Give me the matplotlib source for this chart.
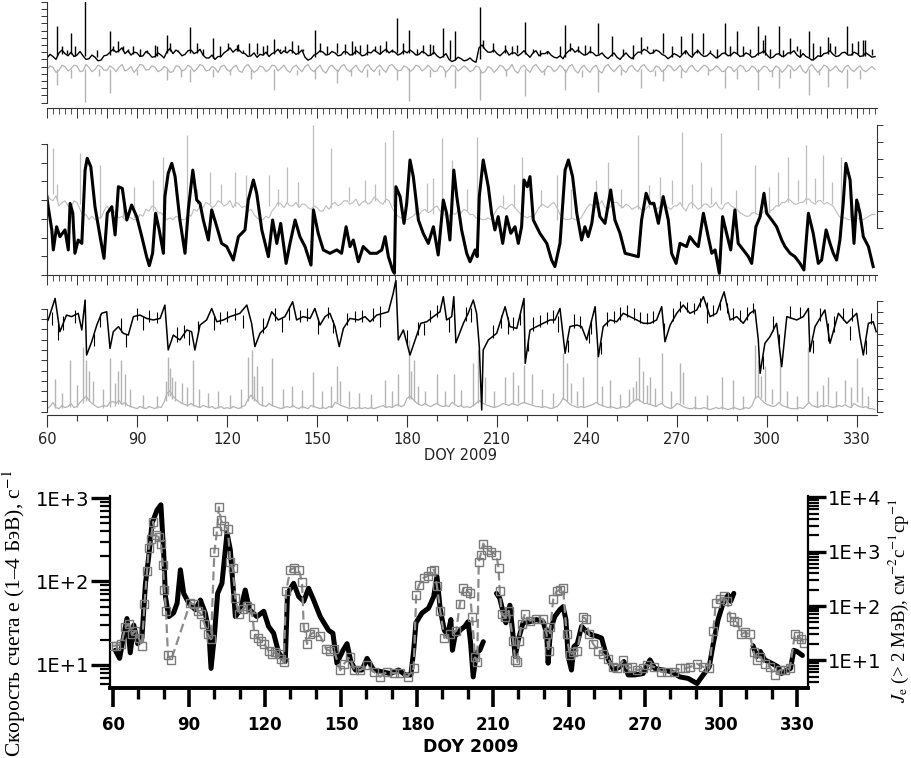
import numpy as np
import matplotlib.pyplot as plt
from matplotlib.ticker import FixedLocator, MultipleLocator, FixedFormatter, LogLocator, NullFormatter

plt.rcParams['mathtext.fontset'] = 'stix'

W, H = 911, 758

# ---------------- top block ----------------
DOY_DAILY = np.arange(60, 337, 1)   # 60..336

# panel 1 (arbitrary units 0..14), daily values
p1_black = [
    6.2, 6.7, 6.4, 6.0, 6.9, 7.3, 6.8, 6.5, 7.0, 6.4, 6.6, 7.1, 6.5, 6.0, 6.1, 6.6, 6.3, 5.8, 5.9, 6.5,
    6.6, 7.0, 7.4, 7.0, 7.2, 7.6, 6.8, 7.2, 6.6, 7.0, 6.9, 6.4, 6.5, 7.1, 6.8, 6.3, 6.4, 6.9, 6.6, 6.2,
    7.1, 7.5, 6.8, 7.3, 7.0, 6.5, 6.7, 7.2, 7.3, 6.8, 7.0, 7.4, 6.6, 6.2, 6.2, 6.6, 6.0, 6.4, 6.4, 6.9,
    7.2, 7.6, 7.0, 7.4, 7.3, 6.9, 6.8, 6.4, 6.5, 6.9, 6.3, 6.7, 6.6, 7.0, 6.4, 6.8, 7.0, 7.4, 6.8, 7.2,
    6.9, 7.3, 7.1, 6.7, 6.9, 7.3, 6.3, 5.9, 6.1, 6.6, 6.8, 7.2, 7.0, 6.6, 6.7, 7.1, 6.9, 6.5, 6.6, 7.1,
    7.0, 6.6, 6.7, 7.2, 6.9, 6.5, 6.6, 7.0, 6.9, 7.3, 7.0, 6.7, 7.1, 7.4, 6.9, 7.2, 7.0, 6.6, 6.8, 7.2,
    6.9, 7.3, 7.0, 6.6, 6.7, 7.1, 6.9, 6.5, 6.6, 7.0, 6.5, 6.2, 6.4, 6.8, 6.0, 5.7, 5.9, 6.3, 6.1, 5.8,
    5.9, 6.2, 5.8, 5.6, 7.6, 8.0, 7.4, 7.0, 7.0, 7.3, 6.8, 6.5, 6.9, 7.3, 6.6, 6.9, 6.9, 6.5, 6.8, 7.2,
    6.7, 6.3, 6.9, 7.2, 6.5, 6.8, 6.8, 7.1, 6.6, 6.3, 6.2, 6.5, 6.1, 6.8, 7.2, 7.5, 7.0, 7.3, 6.9, 6.6,
    6.7, 7.1, 6.9, 6.5, 6.6, 6.9, 6.4, 6.1, 6.5, 6.9, 6.3, 6.0, 6.5, 6.9, 6.4, 6.1, 6.6, 7.0, 7.0, 7.4,
    7.2, 6.8, 6.9, 7.3, 7.1, 6.7, 6.5, 6.1, 6.4, 6.8, 6.6, 6.3, 6.8, 7.2, 6.6, 6.3, 6.9, 7.2, 6.7, 6.4,
    6.5, 6.9, 6.6, 6.2, 6.4, 6.8, 6.9, 6.5, 6.6, 7.0, 6.8, 6.4, 6.5, 6.9, 6.7, 6.3, 6.4, 6.8, 6.9, 7.2,
    6.6, 6.2, 6.3, 6.7, 6.8, 6.4, 6.5, 6.9, 6.9, 7.2, 6.6, 6.3, 6.8, 6.4, 6.2, 5.9, 6.1, 6.5, 6.4, 6.8,
    6.9, 7.2, 6.7, 6.4, 6.5, 6.9, 7.0, 6.6, 6.6, 7.0, 6.8, 6.4, 6.5, 6.9, 6.6, 6.3, 6.4]
p1_black_spikes = [
    (63.4, 6.5, 10.6), (68.0, 6.8, 9.7), (72.7, 6.5, 14.2), (81.0, 6.6, 9.9),
    (83.8, 7.0, 8.5), (99.9, 6.9, 9.4), (107.7, 6.9, 10.5), (115.4, 6.2, 8.9),
    (123.8, 7.1, 8.2), (127.4, 6.6, 8.3), (135.7, 6.7, 8.8), (141.8, 6.9, 8.6),
    (149.3, 6.4, 10.1), (159.3, 6.8, 8.2), (166.6, 6.6, 8.2), (172.9, 7.0, 8.6),
    (176.8, 6.9, 11.7), (180.8, 6.9, 10.1), (187.7, 6.6, 8.2), (192.1, 6.4, 10.3),
    (196.0, 5.9, 9.9), (204.3, 6.0, 13.3), (219.3, 6.8, 11.2), (232.7, 6.4, 10.8),
    (243.8, 6.7, 11.1), (248.4, 6.5, 9.2), (258.0, 6.8, 9.1), (265.4, 6.9, 9.6),
    (271.3, 6.7, 9.2), (274.9, 6.6, 9.6), (278.8, 6.7, 9.6), (286.0, 6.8, 11.0),
    (290.0, 6.7, 9.9), (297.0, 6.6, 10.6), (299.3, 6.6, 9.4), (304.1, 6.6, 10.6),
    (307.7, 6.7, 8.9), (314.0, 6.3, 9.9), (320.2, 6.8, 9.1), (326.6, 6.8, 10.6),
    (330.4, 6.7, 8.5), (332.7, 6.5, 8.7),
    (64.9, 6.8, 7.8), (66.6, 6.7, 7.3), (69.3, 6.5, 7.8), (76.6, 6.3, 7.3), (82.1, 7.2, 7.8),
    (85.4, 7.2, 7.8), (87.1, 7.0, 7.5), (88.8, 6.7, 7.8), (91.0, 6.5, 7.5), (93.2, 6.9, 7.3),
    (96.0, 6.4, 8.0), (96.6, 6.5, 7.8), (101.0, 7.2, 8.3), (103.8, 7.1, 7.3), (109.9, 6.9, 8.3),
    (112.1, 6.6, 7.5), (117.7, 6.3, 7.8), (120.4, 7.3, 8.3), (123.2, 7.2, 8.0), (125.4, 6.9, 7.3),
    (129.9, 6.8, 8.3), (132.1, 6.6, 7.8), (133.2, 6.8, 8.0), (137.7, 7.2, 7.5), (139.3, 7.0, 7.8),
    (143.8, 6.8, 8.0), (145.4, 7.1, 7.5), (151.0, 7.0, 8.3), (153.2, 6.7, 7.8), (156.6, 6.9, 8.3),
    (161.6, 6.6, 8.5), (162.7, 6.8, 7.8), (164.3, 6.9, 8.0), (169.3, 7.1, 7.8), (171.0, 6.9, 8.0),
    (174.9, 7.0, 7.5), (178.8, 6.8, 8.3), (183.2, 6.6, 7.5), (185.4, 6.9, 8.0), (188.8, 6.8, 8.0),
    (194.3, 6.0, 8.7), (205.4, 7.6, 8.7), (208.8, 7.0, 8.3), (212.7, 6.9, 8.0), (214.9, 6.8, 7.8),
    (216.6, 6.9, 8.0), (222.1, 6.9, 7.5), (224.3, 6.5, 7.3), (226.6, 6.8, 7.1), (231.0, 6.5, 7.8),
    (234.3, 7.2, 8.3), (237.1, 7.0, 7.8), (239.3, 6.6, 8.0), (241.0, 6.9, 7.8), (252.1, 6.5, 7.5),
    (255.4, 6.1, 8.0), (259.9, 7.4, 7.8), (262.1, 6.9, 7.5), (268.2, 6.4, 7.8), (272.7, 6.8, 7.3),
    (276.6, 6.9, 7.5), (281.0, 6.9, 7.3), (283.2, 6.2, 7.5), (287.7, 6.5, 7.8), (292.1, 6.5, 7.8),
    (294.3, 6.7, 7.5), (298.8, 6.9, 8.7), (301.0, 6.2, 7.5), (305.4, 6.4, 7.3), (309.9, 7.2, 7.8),
    (311.0, 6.3, 7.5), (315.4, 5.9, 8.3), (317.7, 6.5, 7.8), (321.0, 7.2, 8.3), (322.7, 6.7, 7.8),
    (328.2, 6.6, 8.3), (332.1, 6.5, 8.7), (334.9, 6.6, 7.5)]
p1_gray = [
    4.6, 5.1, 4.9, 4.2, 4.5, 5.2, 5.0, 4.4, 4.7, 5.2, 5.1, 4.3, 4.4, 5.3, 4.9, 4.3, 4.6, 5.2, 5.0, 4.5,
    4.5, 5.1, 4.8, 4.3, 4.9, 5.3, 4.4, 4.6, 5.0, 4.2, 4.7, 5.3, 5.2, 4.5, 4.6, 5.1, 4.9, 4.3, 4.5, 5.0,
    4.8, 4.2, 4.3, 5.1, 5.0, 4.4, 4.6, 5.2, 4.9, 4.3, 4.7, 5.3, 5.1, 4.4, 4.5, 5.0, 4.8, 4.2, 5.0, 5.2,
    4.6, 4.3, 4.9, 5.2, 4.4, 4.2, 5.0, 5.3, 4.7, 4.2, 4.5, 5.1, 4.9, 4.3, 4.6, 5.2, 5.1, 4.4, 4.8, 5.2,
    4.5, 4.2, 4.9, 5.2, 4.7, 4.3, 5.0, 5.3, 4.6, 4.3, 4.8, 5.2, 4.4, 4.1, 4.9, 5.2, 4.7, 4.3, 5.0, 5.3,
    4.6, 4.3, 4.8, 5.2, 4.5, 4.2, 5.0, 5.3, 4.7, 4.3, 4.9, 5.2, 4.6, 4.2, 5.1, 5.3, 4.8, 4.4, 4.5, 5.1,
    4.9, 4.3, 4.6, 5.2, 5.0, 4.4, 4.7, 5.2, 4.8, 4.3, 4.4, 5.1, 4.9, 4.2, 4.6, 5.2, 5.0, 4.4, 4.7, 5.1,
    4.8, 4.3, 4.5, 5.1, 4.9, 4.1, 4.3, 5.0, 4.8, 4.2, 4.6, 5.2, 5.0, 4.4, 4.7, 5.3, 4.4, 4.1, 4.9, 5.2,
    4.6, 4.2, 5.0, 5.3, 4.7, 4.2, 4.5, 5.1, 4.9, 4.3, 4.6, 5.2, 4.8, 4.2, 5.0, 5.3, 4.5, 4.1, 4.8, 5.2,
    4.6, 4.2, 4.9, 5.2, 4.4, 4.1, 5.0, 5.3, 4.7, 4.3, 4.8, 5.2, 4.5, 4.2, 4.9, 5.2, 4.6, 4.3, 5.0, 5.3,
    4.7, 4.3, 4.4, 5.1, 4.9, 4.3, 4.6, 5.2, 5.0, 4.4, 4.7, 5.2, 4.5, 4.2, 4.9, 5.2, 4.6, 4.3, 4.8, 5.2,
    5.0, 4.4, 4.6, 5.1, 4.8, 4.3, 4.4, 5.0, 4.9, 4.3, 4.7, 5.2, 5.0, 4.3, 4.5, 5.1, 4.8, 4.2, 4.6, 5.1,
    4.9, 4.3, 4.5, 5.1, 4.8, 4.2, 4.6, 5.2, 5.0, 4.4, 4.7, 5.2, 4.4, 4.1, 4.9, 5.3, 4.7, 4.2, 4.6, 5.2,
    5.0, 4.4, 4.7, 5.1, 4.5, 4.2, 4.9, 5.2, 4.6, 4.3, 4.8, 5.1, 4.5, 4.3, 4.7, 5.0, 4.6]
p1_gray_dips = [
    (63.4, 4.6, 2.5), (68.0, 4.7, 3.4), (72.7, 4.7, 0.1), (81.0, 4.6, 1.3),
    (99.9, 4.7, 3.2), (107.7, 4.7, 2.9), (115.4, 4.7, 3.5), (128.0, 4.6, 3.3),
    (135.7, 4.7, 1.8), (149.3, 4.6, 3.3), (156.6, 4.7, 2.7), (166.6, 4.7, 3.6),
    (176.8, 4.6, 3.2), (180.8, 4.8, 0.2), (187.7, 4.7, 3.5), (196.0, 4.6, 2.1),
    (204.3, 4.6, 0.4), (219.3, 4.7, 0.9), (232.7, 4.7, 1.8), (243.8, 4.6, 1.5),
    (258.0, 4.7, 2.0), (265.4, 4.7, 3.0), (271.3, 4.7, 3.4), (286.0, 4.7, 2.0),
    (290.0, 4.7, 3.3), (297.0, 4.6, 1.8), (304.1, 4.7, 2.0), (307.7, 4.7, 3.4),
    (314.0, 4.7, 1.1), (320.2, 4.6, 2.2), (326.6, 4.6, 2.0),
    (77.3, 4.6, 3.7), (90.1, 4.7, 3.8), (104.6, 4.5, 3.6), (121.1, 4.6, 3.9), (143.2, 4.5, 3.8),
    (161.2, 4.6, 3.7), (170.5, 4.6, 3.9), (192.8, 4.5, 3.6), (213.0, 4.6, 3.7), (225.6, 4.6, 3.9),
    (238.2, 4.5, 3.5), (251.4, 4.6, 3.8), (262.8, 4.5, 3.7), (280.2, 4.6, 3.9), (301.5, 4.5, 3.6),
    (317.4, 4.6, 3.8), (330.9, 4.5, 3.3)]

# panel 2 (left units 0..7 for black, right units 0..6 for gray)
p2_black = [
    (59.7, 4.46), (60.4, 3.65), (61.6, 2.41), (62.1, 1.34), (63.2, 2.58), (64.3, 2.05),
    (66.0, 2.41), (67.1, 1.34), (67.7, 3.83), (68.6, 3.30), (69.3, 1.16), (70.4, 1.87),
    (71.6, 1.69), (72.7, 5.61), (73.4, 6.24), (74.6, 5.79), (76.0, 3.65), (77.7, 2.05),
    (79.0, 0.89), (80.1, 3.30), (81.6, 3.65), (82.7, 2.14), (83.8, 4.72), (85.1, 4.63),
    (86.6, 2.94), (88.2, 3.74), (89.9, 3.12), (91.6, 2.05), (93.2, 0.98), (94.1, 0.50),
    (95.2, 1.16), (96.2, 3.30), (97.4, 2.41), (98.8, 1.16), (99.3, 4.19), (100.4, 5.44),
    (101.6, 5.97), (102.7, 5.26), (104.3, 2.94), (106.0, 1.16), (107.1, 3.48), (108.6, 5.61),
    (109.9, 4.01), (111.0, 3.83), (112.1, 2.94), (113.8, 1.87), (114.9, 3.48), (116.6, 2.58),
    (118.2, 1.69), (119.9, 1.52), (122.1, 0.80), (123.8, 2.05), (126.0, 2.41), (127.1, 4.01),
    (128.8, 5.08), (129.9, 4.37), (131.6, 2.41), (133.8, 0.98), (135.2, 2.94), (136.6, 1.69),
    (137.9, 2.76), (139.7, 0.62), (141.0, 1.69), (142.7, 2.94), (144.3, 2.05), (146.0, 1.52),
    (148.0, 0.53), (148.8, 3.48), (150.4, 2.23), (152.1, 1.34), (154.3, 1.16), (156.6, 1.34),
    (158.2, 1.16), (159.7, 2.58), (161.0, 1.52), (162.1, 1.87), (163.8, 0.71), (165.4, 1.52),
    (167.7, 1.16), (169.9, 1.16), (171.6, 1.34), (172.7, 2.05), (173.8, 0.98), (175.2, 0.27),
    (175.8, 0.09), (176.3, 4.72), (177.7, 4.19), (179.0, 2.76), (179.9, 3.83), (181.0, 6.15),
    (182.1, 5.26), (183.8, 2.94), (185.4, 2.23), (187.1, 1.69), (188.8, 2.58), (190.4, 1.07),
    (192.1, 4.01), (193.2, 3.30), (194.3, 1.87), (195.6, 5.61), (196.6, 4.19), (198.2, 2.41),
    (199.9, 1.16), (201.0, 0.71), (202.7, 1.34), (203.4, 0.98), (204.1, 4.19), (205.4, 6.15),
    (207.1, 4.72), (208.2, 3.30), (209.3, 2.41), (210.4, 3.12), (211.9, 1.69), (213.2, 3.12),
    (214.6, 2.23), (216.0, 2.58), (217.1, 1.69), (218.2, 2.58), (219.0, 5.08), (220.1, 4.72),
    (221.0, 5.26), (222.1, 2.94), (224.3, 2.23), (226.6, 1.69), (228.2, 0.80), (229.3, 0.45),
    (231.0, 1.69), (232.7, 5.61), (233.8, 6.15), (235.2, 5.26), (236.6, 3.30), (238.2, 1.87),
    (239.3, 2.58), (240.4, 2.05), (241.6, 2.76), (242.9, 4.37), (244.3, 3.12), (246.0, 2.76),
    (247.9, 4.55), (249.3, 2.94), (251.0, 2.23), (252.7, 1.16), (254.9, 1.07), (257.1, 0.98),
    (258.2, 2.94), (259.7, 4.37), (261.0, 3.83), (262.3, 3.83), (263.8, 2.76), (265.4, 4.19),
    (267.1, 2.94), (268.2, 1.16), (269.7, 0.62), (271.0, 1.69), (273.2, 1.52), (274.3, 2.05),
    (276.0, 1.69), (277.1, 1.52), (278.8, 3.30), (280.4, 2.05), (281.6, 1.16), (282.7, 1.34),
    (284.1, 0.09), (285.2, 3.12), (286.8, 2.05), (287.9, 1.34), (289.3, 3.48), (290.4, 1.69),
    (292.1, 1.34), (293.8, 0.98), (294.9, 0.62), (296.3, 2.58), (297.7, 3.12), (299.0, 4.37),
    (299.9, 3.30), (301.6, 2.94), (303.2, 2.58), (304.9, 1.87), (306.0, 1.52), (307.7, 1.16),
    (309.3, 0.98), (311.0, 0.62), (312.3, 0.27), (313.8, 3.30), (315.4, 2.23), (317.1, 0.62),
    (318.2, 0.80), (319.7, 2.41), (321.0, 1.69), (322.1, 1.16), (323.2, 0.80), (324.3, 1.87),
    (325.4, 3.83), (326.3, 5.97), (327.7, 5.08), (329.0, 1.69), (329.9, 4.01), (331.0, 3.30),
    (332.1, 2.05), (333.8, 1.52), (335.4, 0.45)]
p2_gray = [
    2.0, 1.7, 1.6, 1.9, 1.3, 1.5, 1.6, 1.3, 1.2, 1.6, 1.5, 1.1, 0.7, 0.8, 0.5, 0.7, 0.5, 0.6, 0.6, 1.0,
    1.3, 1.0, 1.1, 0.8, 0.6, 0.7, 0.5, 0.7, 0.6, 0.5, 0.5, 0.8, 0.7, 1.1, 1.0, 1.3, 1.2, 0.9, 0.9, 0.7,
    0.5, 0.6, 0.5, 0.7, 0.6, 0.5, 0.5, 0.8, 0.7, 1.1, 1.0, 1.3, 1.2, 1.5, 1.4, 1.2, 1.3, 1.6, 1.5, 1.3,
    1.4, 1.6, 1.2, 1.5, 1.4, 1.2, 1.3, 1.0, 1.1, 0.8, 0.6, 0.5, 0.5, 0.7, 0.6, 1.0, 1.2, 1.5, 1.4, 1.2,
    1.5, 1.3, 1.3, 1.5, 1.2, 1.4, 1.4, 1.2, 1.1, 1.3, 1.2, 1.0, 1.0, 1.3, 1.1, 1.4, 1.5, 1.3, 1.4, 1.6,
    1.6, 1.4, 1.5, 1.7, 1.3, 1.5, 1.6, 1.4, 1.5, 1.8, 1.7, 1.5, 1.4, 1.7, 1.6, 1.2, 0.9, 0.7, 0.6, 0.5,
    0.5, 0.6, 0.7, 0.9, 0.8, 1.0, 1.1, 0.9, 1.0, 1.2, 1.3, 1.0, 0.9, 0.7, 0.7, 0.9, 0.8, 1.0, 0.9, 1.1,
    1.0, 0.8, 0.8, 0.6, 0.6, 0.5, 0.5, 0.6, 0.5, 0.8, 1.1, 1.3, 1.2, 1.1, 1.3, 1.4, 1.2, 1.0, 0.8, 0.7,
    0.6, 0.7, 0.6, 0.9, 1.2, 1.4, 1.3, 1.2, 1.4, 1.5, 1.2, 0.8, 0.6, 0.5, 0.5, 0.6, 0.5, 0.5, 0.6, 0.9,
    1.2, 1.4, 1.3, 1.2, 1.4, 1.6, 1.2, 1.1, 1.3, 1.5, 1.5, 1.3, 1.2, 1.4, 1.3, 1.1, 1.2, 1.3, 1.1, 1.0,
    1.2, 1.4, 1.3, 1.1, 1.2, 1.4, 1.4, 1.2, 1.1, 1.3, 1.3, 1.5, 1.2, 1.0, 1.4, 1.5, 1.3, 1.1, 1.2, 1.4,
    1.4, 1.2, 1.3, 1.5, 1.2, 1.1, 1.4, 1.5, 1.3, 1.2, 1.1, 0.9, 0.8, 0.7, 0.7, 0.9, 0.9, 0.8, 0.8, 1.0,
    0.9, 1.0, 1.1, 1.3, 1.3, 1.5, 1.5, 1.7, 1.6, 1.4, 1.4, 1.5, 1.5, 1.7, 1.7, 1.5, 1.4, 1.6, 1.6, 1.4,
    1.5, 1.4, 1.3, 1.0, 0.7, 0.6, 0.6, 0.5, 0.5, 0.7, 0.6, 0.5, 0.5, 0.6, 0.7, 0.8, 0.8]
p2_gray_spikes = [
    (62.1, 2.0, 4.65), (63.2, 1.6, 2.6), (70.9, 1.4, 4.36), (77.7, 0.6, 3.68),
    (85.3, 0.6, 2.2), (89.0, 0.6, 2.4), (95.2, 1.0, 2.8), (98.8, 0.9, 4.17),
    (106.6, 1.1, 5.43), (110.0, 1.4, 2.3), (114.3, 1.4, 3.29), (118.0, 1.5, 2.6),
    (122.6, 1.3, 3.29), (126.3, 0.6, 3.10), (134.1, 1.3, 3.10), (137.0, 1.3, 2.3),
    (140.1, 1.5, 3.59), (143.7, 1.3, 2.7), (148.5, 1.1, 6.01), (154.8, 1.2, 4.65),
    (160.5, 1.6, 2.4), (165.9, 1.5, 2.81), (169.4, 1.6, 2.6), (172.6, 1.5, 5.04),
    (175.2, 1.3, 5.72), (182.5, 0.8, 2.2), (186.6, 1.0, 2.62), (188.5, 0.8, 2.9),
    (191.6, 0.9, 5.23), (194.9, 0.9, 3.97), (200.0, 1.0, 2.3), (203.4, 0.5, 5.33),
    (212.1, 1.3, 1.94), (215.5, 1.2, 2.6), (218.2, 0.9, 4.17), (224.5, 1.3, 2.2),
    (229.9, 0.5, 3.10), (234.8, 0.6, 2.3), (242.9, 1.4, 2.81), (247.1, 1.3, 3.88),
    (251.3, 1.2, 2.3), (257.1, 1.1, 5.43), (260.5, 1.2, 2.5), (264.3, 1.2, 3.00),
    (268.3, 1.4, 2.8), (271.6, 1.3, 5.62), (275.0, 1.2, 2.6), (277.9, 1.2, 3.88),
    (281.3, 1.4, 2.4), (284.6, 1.4, 5.52), (289.5, 0.7, 2.2), (296.0, 0.8, 3.68),
    (300.8, 0.9, 2.4), (303.8, 1.3, 3.29), (307.1, 1.5, 4.17), (310.2, 1.6, 2.8),
    (313.0, 1.4, 4.84), (316.0, 1.5, 2.9), (318.8, 1.6, 4.26), (321.8, 1.4, 2.7),
    (324.6, 0.6, 4.17), (327.5, 0.6, 2.2), (330.8, 0.6, 1.55)]

# panel 3 (right units 0..10 for black, left units 0..10 for gray)
p3_black = [
    (60.4, 8.26), (62.7, 10.2), (64.3, 7.2), (66.5, 8.7), (68.2, 8.56), (70.4, 8.86),
    (71.6, 7.36), (72.7, 10.06), (73.2, 5.1), (74.9, 6.3), (76.6, 7.8), (78.2, 8.86),
    (79.9, 9.0), (81.0, 5.7), (82.1, 7.2), (83.8, 7.66), (85.4, 7.06), (87.1, 6.9),
    (88.8, 8.56), (91.0, 8.7), (93.2, 8.4), (95.4, 8.26), (97.7, 8.4), (99.3, 9.6),
    (100.4, 5.56), (102.1, 6.9), (104.3, 6.46), (106.6, 7.36), (108.2, 7.2), (109.3, 5.56),
    (111.0, 7.8), (113.2, 8.26), (114.9, 9.3), (116.6, 8.1), (118.8, 8.26), (121.0, 8.56),
    (124.3, 8.86), (126.6, 9.6), (128.2, 7.96), (129.3, 5.86), (131.0, 7.06), (133.2, 7.66),
    (134.9, 9.0), (137.1, 8.26), (139.3, 8.56), (141.9, 9.9), (143.2, 8.26), (145.4, 8.56),
    (147.7, 8.4), (149.3, 9.3), (151.0, 7.8), (152.7, 8.56), (154.3, 8.86), (156.0, 7.66),
    (157.4, 5.86), (158.8, 7.5), (161.0, 8.4), (163.8, 8.26), (166.0, 8.56), (167.7, 8.1),
    (169.9, 8.7), (172.1, 8.86), (173.8, 9.0), (175.4, 10.66), (176.3, 11.86), (177.1, 6.46),
    (178.8, 7.36), (181.0, 5.1), (182.7, 6.46), (184.6, 7.96), (186.6, 8.1), (188.8, 8.56),
    (191.0, 9.0), (192.1, 10.36), (193.2, 8.26), (194.9, 8.56), (195.6, 10.36), (196.3, 6.2),
    (198.8, 7.96), (200.4, 8.86), (202.1, 10.06), (203.2, 8.86), (204.1, 5.86), (204.9, 0.15),
    (205.4, 5.56), (207.1, 6.46), (209.9, 7.06), (212.7, 9.46), (214.3, 7.66), (216.6, 7.5),
    (219.0, 10.2), (219.4, 4.35), (221.0, 7.36), (223.2, 7.66), (225.4, 7.96), (227.7, 8.26),
    (229.3, 8.26), (231.0, 9.3), (232.7, 5.26), (234.3, 7.66), (236.6, 7.8), (238.2, 7.66),
    (239.9, 6.46), (242.7, 9.46), (243.8, 4.95), (245.4, 7.66), (247.7, 8.26), (249.9, 8.1),
    (252.1, 8.86), (254.3, 8.56), (256.6, 8.26), (258.8, 7.96), (261.0, 7.96), (263.2, 8.26),
    (264.9, 9.46), (266.0, 6.3), (267.7, 7.8), (269.9, 8.86), (272.1, 9.6), (274.3, 8.86),
    (276.6, 9.16), (278.8, 10.36), (281.0, 8.56), (283.2, 8.86), (285.7, 10.8), (287.7, 8.26),
    (289.9, 8.56), (292.1, 7.96), (294.3, 8.86), (296.0, 9.16), (297.1, 6.46), (297.7, 3.45),
    (299.3, 6.16), (301.0, 6.76), (303.2, 7.96), (304.9, 4.05), (306.6, 8.56), (309.9, 8.26),
    (312.1, 8.56), (313.8, 9.3), (314.3, 5.4), (316.0, 7.66), (319.3, 9.16), (321.0, 6.16),
    (323.8, 8.86), (326.6, 7.96), (329.9, 8.86), (331.0, 6.76), (332.1, 5.1), (333.8, 7.96),
    (335.4, 8.1), (336.4, 7.2)]
p3_black_jitter = [
    (61.5, 7.8, 9.0), (65.3, 7.4, 8.6), (69.2, 8.0, 9.2), (77.5, 7.6, 8.8), (84.7, 7.2, 8.4),
    (89.9, 8.3, 9.3), (94.0, 8.1, 9.2), (96.8, 8.0, 9.0), (103.2, 6.3, 7.6), (105.5, 6.6, 7.8),
    (110.2, 7.0, 8.2), (117.8, 7.9, 9.0), (120.0, 8.1, 9.1), (122.7, 8.3, 9.3), (132.0, 7.1, 8.4),
    (136.0, 8.2, 9.3), (140.5, 8.3, 9.5), (144.3, 8.1, 9.2), (146.5, 8.2, 9.3), (153.5, 8.4, 9.4),
    (160.0, 7.8, 8.9), (162.5, 8.1, 9.1), (165.0, 8.1, 9.2), (168.8, 8.2, 9.3), (171.0, 8.5, 9.5),
    (180.0, 6.0, 7.4), (183.6, 6.9, 8.1), (187.7, 8.1, 9.2), (189.9, 8.5, 9.6), (199.5, 8.2, 9.4),
    (208.5, 6.6, 7.8), (211.2, 7.5, 8.7), (215.4, 7.4, 8.5), (217.8, 7.8, 9.0), (222.0, 7.3, 8.5),
    (224.3, 7.6, 8.7), (226.5, 7.9, 9.0), (228.5, 8.0, 9.2), (235.5, 7.5, 8.8), (237.5, 7.5, 8.6),
    (241.2, 7.0, 8.3), (246.5, 7.7, 9.0), (249.0, 8.0, 9.1), (251.0, 8.3, 9.4), (253.2, 8.5, 9.6),
    (255.5, 8.3, 9.3), (257.7, 8.0, 9.0), (260.0, 7.9, 8.9), (262.1, 8.0, 9.1), (268.8, 8.2, 9.3),
    (271.0, 9.0, 10.0), (273.2, 9.0, 9.9), (275.5, 8.8, 9.8), (277.7, 9.4, 10.2), (280.0, 9.0, 9.9),
    (282.1, 8.6, 9.6), (284.4, 9.2, 10.1), (286.6, 8.9, 9.8), (288.8, 8.3, 9.3), (291.0, 8.2, 9.2),
    (293.2, 8.3, 9.4), (295.2, 8.9, 9.8), (302.1, 7.3, 8.6), (307.7, 8.4, 9.5), (311.0, 8.4, 9.4),
    (317.7, 8.2, 9.3), (322.4, 7.2, 8.6), (325.2, 8.3, 9.3), (328.2, 8.2, 9.3), (334.6, 7.9, 8.9),
    (63.5, 8.0, 6.5), (75.8, 7.0, 5.9), (86.3, 7.0, 5.8), (92.1, 8.5, 7.4), (107.4, 7.3, 6.0),
    (115.7, 8.6, 7.4), (125.4, 8.7, 7.5), (138.2, 8.4, 7.2), (150.2, 8.4, 7.0), (155.2, 8.3, 7.1),
    (170.9, 8.8, 7.6), (185.6, 8.0, 6.9), (193.9, 8.4, 7.2), (201.3, 9.3, 8.1), (213.5, 8.5, 7.0),
    (220.2, 6.6, 5.5), (230.2, 8.6, 7.2), (233.5, 6.5, 5.4), (240.8, 7.5, 6.2), (244.6, 6.3, 5.2),
    (265.5, 8.0, 6.5), (279.9, 9.4, 8.0), (298.5, 5.0, 3.8), (303.9, 7.0, 5.4), (315.2, 6.5, 5.3),
    (320.2, 8.0, 6.4), (327.5, 7.7, 6.5), (332.9, 6.5, 5.2)]
p3_gray = [
    0.3, 0.5, 0.9, 0.4, 0.3, 0.6, 0.4, 0.5, 0.8, 0.4, 0.5, 0.9, 1.2, 1.5, 1.1, 0.8, 0.6, 0.4, 0.5, 0.6,
    0.5, 0.9, 1.0, 0.8, 1.1, 0.7, 0.9, 0.6, 0.5, 0.4, 0.3, 0.5, 0.4, 0.3, 0.5, 0.4, 0.3, 0.5, 0.4, 0.9,
    1.8, 2.0, 1.5, 1.2, 1.0, 0.8, 0.7, 0.6, 0.8, 0.6, 0.5, 0.4, 0.6, 0.5, 0.4, 0.5, 0.3, 0.4, 0.5, 0.3,
    0.4, 0.3, 0.5, 0.4, 0.3, 0.5, 0.6, 1.2, 1.6, 1.3, 1.0, 0.7, 0.6, 0.5, 0.8, 0.6, 0.5, 0.4, 0.3, 0.4,
    0.5, 0.4, 0.6, 0.4, 0.3, 0.5, 0.4, 0.3, 0.6, 0.5, 0.4, 0.3, 0.4, 0.3, 0.5, 0.4, 0.9, 0.8, 0.6, 0.5,
    0.4, 0.3, 0.4, 0.3, 0.4, 0.3, 0.4, 0.3, 0.4, 0.3, 0.4, 0.5, 0.6, 0.4, 0.5, 0.4, 0.6, 0.7, 0.5, 0.6,
    1.3, 1.5, 1.2, 0.9, 0.7, 0.6, 0.8, 0.6, 0.5, 0.7, 0.8, 0.6, 0.5, 0.6, 0.5, 0.9, 0.7, 0.5, 0.6, 0.4,
    0.5, 0.4, 0.6, 0.8, 1.1, 0.9, 0.7, 0.6, 0.5, 0.4, 0.5, 0.6, 0.8, 0.7, 0.6, 0.8, 0.7, 0.6, 0.8, 0.9,
    0.8, 0.7, 0.6, 0.5, 0.5, 0.4, 0.5, 0.4, 0.3, 0.4, 0.5, 0.8, 1.3, 1.1, 0.8, 0.6, 0.5, 0.4, 0.5, 0.4,
    0.5, 0.6, 0.7, 0.9, 0.7, 0.6, 0.5, 0.4, 0.5, 0.4, 0.3, 0.4, 0.5, 0.4, 0.6, 0.9, 1.1, 1.2, 1.0, 0.8,
    0.8, 0.7, 0.6, 0.5, 0.7, 0.8, 0.5, 0.4, 0.3, 0.5, 0.8, 0.7, 0.5, 0.4, 0.3, 0.3, 0.4, 0.3, 0.3, 0.4,
    0.3, 0.2, 0.3, 0.4, 0.3, 0.4, 0.3, 0.2, 0.3, 0.4, 0.3, 0.2, 0.3, 0.4, 0.3, 0.6, 1.3, 1.5, 1.2, 0.9,
    0.7, 0.6, 0.5, 0.6, 0.9, 0.6, 0.5, 0.4, 0.3, 0.3, 0.3, 0.4, 0.3, 0.6, 0.9, 0.6, 0.5, 0.4, 0.6, 0.5,
    0.6, 0.5, 0.4, 0.5, 0.6, 0.5, 0.7, 0.5, 0.4, 0.8, 0.6, 0.5, 0.4, 0.5, 0.3, 0.3, 0.2]
p3_gray_spikes = [
    (62.7, 0.4, 3.2), (65.0, 0.4, 1.8), (67.7, 0.5, 5.0), (69.9, 0.5, 2.6), (72.1, 0.8, 6.3),
    (73.1, 1.0, 5.0), (73.9, 1.0, 4.0), (75.2, 0.8, 3.0), (78.6, 0.4, 2.2), (80.9, 0.5, 5.2),
    (82.5, 0.6, 2.8), (83.8, 0.7, 4.0), (84.6, 0.7, 5.0), (86.0, 0.6, 3.7), (87.5, 0.5, 2.2),
    (92.0, 0.4, 1.6), (96.5, 0.4, 1.5), (99.5, 1.0, 3.0), (100.4, 1.5, 5.3), (101.0, 1.5, 4.2),
    (101.6, 1.2, 3.4), (102.5, 1.0, 3.0), (104.9, 0.8, 2.75), (106.5, 0.6, 2.4), (108.8, 0.6, 5.0),
    (110.5, 0.5, 2.2), (113.5, 0.5, 1.8), (117.0, 0.4, 2.0), (121.0, 0.4, 1.6), (124.5, 0.4, 2.2),
    (127.1, 1.0, 5.3), (128.2, 1.2, 6.0), (129.0, 1.0, 3.5), (129.9, 0.9, 4.4), (131.5, 0.6, 2.5),
    (134.9, 0.6, 5.2), (138.5, 0.4, 2.2), (141.5, 0.5, 2.5), (145.0, 0.4, 2.1), (148.8, 0.5, 3.9),
    (151.5, 0.4, 2.0), (154.5, 0.5, 2.5), (156.6, 0.9, 4.4), (157.6, 0.8, 3.0), (160.5, 0.5, 2.0),
    (164.0, 0.4, 1.8), (168.0, 0.4, 1.7), (172.7, 0.5, 3.1), (175.0, 0.5, 2.0), (177.1, 0.6, 3.7),
    (180.5, 1.2, 7.0), (181.2, 1.2, 4.0), (182.2, 1.0, 5.0), (183.5, 0.7, 2.5), (186.0, 0.7, 2.0),
    (189.9, 0.7, 3.7), (192.5, 0.6, 2.0), (195.5, 0.8, 3.7), (198.0, 0.6, 2.1), (202.1, 0.6, 4.7),
    (203.8, 0.8, 6.0), (206.0, 0.8, 3.4), (209.0, 0.5, 2.0), (212.7, 0.8, 3.4), (215.4, 0.7, 3.9),
    (217.0, 0.8, 2.6), (219.0, 0.8, 4.5), (221.6, 0.7, 3.7), (225.0, 0.5, 2.2), (228.5, 0.4, 1.8),
    (232.1, 1.2, 5.7), (233.2, 1.0, 4.7), (234.5, 0.8, 2.8), (236.5, 0.6, 2.0), (238.8, 0.5, 3.4),
    (243.2, 0.8, 5.8), (245.0, 0.6, 2.5), (247.7, 0.4, 3.1), (251.0, 0.4, 1.7), (254.0, 0.6, 2.2),
    (255.4, 1.0, 2.4), (256.3, 1.1, 3.0), (257.4, 1.0, 5.3), (258.8, 0.9, 4.0), (260.0, 0.8, 2.6),
    (261.0, 0.7, 3.4), (262.5, 0.6, 2.3), (264.9, 0.8, 5.7), (268.0, 0.4, 2.0), (271.0, 0.8, 4.7),
    (272.1, 0.7, 3.9), (276.0, 0.3, 1.5), (280.0, 0.3, 1.6), (284.9, 0.3, 3.4), (288.8, 0.3, 3.1),
    (292.0, 0.3, 1.5), (296.0, 1.3, 6.5), (297.1, 1.5, 5.0), (298.0, 1.3, 3.5), (299.3, 1.0, 4.4),
    (301.5, 0.7, 2.2), (304.3, 0.9, 5.7), (306.5, 0.5, 2.0), (310.0, 0.3, 1.5), (313.8, 0.9, 6.3),
    (316.5, 0.5, 2.0), (318.5, 0.6, 2.6), (320.4, 0.7, 3.4), (323.0, 0.5, 2.0), (326.0, 0.8, 3.1),
    (328.0, 0.5, 2.4), (329.9, 0.9, 5.2), (331.5, 0.6, 2.4), (333.8, 0.4, 1.5)]

# ---------------- bottom panel ----------------
# electron count rate e (1-4 GeV), s^-1 (left axis); NaN = data gap
e_rate = [
    (60.9, 15), (62.6, 12), (64.2, 22), (65.5, 36), (66.8, 14), (68.2, 30), (69.7, 18),
    (71.4, 21), (72.8, 95), (74.1, 200), (75.4, 500), (77.4, 720), (78.9, 830), (80.0, 220),
    (80.7, 66), (82.0, 38), (83.9, 42), (85.3, 55), (86.6, 138), (87.9, 72), (89.9, 55),
    (92.5, 46), (94.5, 60), (96.4, 42), (97.8, 26), (98.7, 9.1), (100.0, 22), (101.3, 72),
    (103.0, 95), (105.0, 380), (106.3, 240), (108.3, 38), (110.3, 46), (112.2, 79), (113.9, 46),
    (116.8, 38), (119.5, 44), (121.4, 29), (123.4, 24), (125.4, 14), (128.0, 11), (128.9, 72),
    (131.3, 95), (133.3, 66), (135.3, 58), (137.2, 83), (139.2, 60), (141.8, 38), (145.1, 26),
    (146.8, 24), (148.4, 10.5), (150.8, 15), (152.4, 18), (153.9, 11), (155.7, 8.7), (158.3, 8.7),
    (160.3, 12), (162.9, 8.7), (166.2, 8.3), (169.5, 7.9), (172.8, 8.7), (175.4, 7.6), (177.6, 7.6),
    (178.7, 15), (179.6, 32), (182.0, 42), (184.6, 48), (186.6, 66), (187.9, 115), (189.2, 46),
    (190.8, 26), (192.1, 23), (193.4, 35), (194.0, 15), (195.0, 22), (197.0, 26), (198.9, 29),
    (200.2, 33), (201.2, 18), (202.2, 7.2), (203.5, 14), (204.8, 15), (206.2, 19), (208.0, np.nan),
    (211.4, 72), (212.7, 63), (214.1, 42), (215.1, 32), (216.7, 52), (218.0, 22), (218.8, 12.6),
    (220.0, 20), (221.9, 32), (224.6, 33), (227.2, 35), (229.8, 33), (231.2, 24), (231.8, 10.5),
    (232.7, 26), (234.4, 38), (236.4, 46), (237.7, 50), (238.8, 35), (239.7, 12.6), (241.0, 8.7),
    (242.0, 16.6), (243.3, 18), (245.0, 29), (247.0, 25), (248.9, 23), (251.2, 22), (252.9, 21),
    (254.2, 15), (255.9, 11), (257.7, 8.7), (260.1, 9.5), (261.7, 11), (263.4, 7.6), (266.0, 7.6),
    (269.3, 7.9), (272.0, 11.5), (273.9, 9.1), (277.2, 8.7), (280.5, 8.3), (283.8, 7.2), (287.1, 6.9),
    (290.6, 6.0), (293.0, 7.6), (295.4, 9.5), (297.0, 18), (298.9, 35), (300.9, 55), (302.9, 69),
    (303.9, 58), (305.1, 72), (308.0, np.nan), (312.7, 17), (314.1, 12.6), (315.6, 14.5),
    (317.3, 11.5), (320.0, 10.5), (322.6, 9.5), (323.9, 7.9), (326.2, 8.7), (327.5, 9.1),
    (328.8, 15), (330.1, 14.5), (332.2, 13)]
# J_e (> 2 MeV), cm^-2 s^-1 sr^-1 (right axis)
je_flux = [
    (59.6, 18.6), (61.3, 18.6), (63.2, 20), (64.9, 41), (66.2, 47), (67.5, 30), (68.8, 35),
    (70.1, 26), (71.4, 18.6), (72.4, 107), (73.4, 437), (74.1, 1150), (75.0, 1740), (75.8, 3550),
    (76.8, 2000), (78.0, 1860), (78.9, 1410), (79.6, 575), (80.3, 200), (80.9, 81), (81.7, 12.3),
    (82.9, 10), (90.5, 115), (91.8, 107), (93.4, 81), (94.7, 71), (96.1, 47), (97.4, 30),
    (98.7, 24.5), (100.0, 1000), (101.1, 2450), (101.8, 6600), (102.6, 3800), (103.9, 3000),
    (105.3, 2630), (106.3, 660), (107.2, 500), (108.3, 141), (109.6, 71), (111.2, 87), (112.9, 100),
    (114.2, 93), (115.1, 62), (115.8, 30), (117.1, 26), (118.4, 23), (119.7, 20), (121.4, 15),
    (122.8, 13), (124.1, 14), (125.4, 13), (126.3, 10.7), (127.4, 9.3), (128.3, 186), (130.0, 468),
    (131.6, 500), (133.3, 468), (134.6, 282), (135.3, 41), (136.6, 20), (137.9, 30), (139.5, 33),
    (141.8, 28), (144.2, 16), (145.8, 15), (147.1, 16), (149.7, 6.6), (151.3, 8.7), (153.4, 11.5),
    (155.3, 6.6), (157.6, 6.6), (160.3, 8.1), (162.9, 6.2), (165.5, 5.0), (168.2, 6.2), (170.8, 5.8),
    (173.4, 5.8), (176.3, 5.0), (178.7, 7.1), (179.7, 162), (180.8, 245), (182.6, 331), (184.2, 355),
    (185.5, 437), (186.8, 468), (187.9, 229), (189.2, 81), (190.8, 26), (193.2, 30), (195.5, 35),
    (196.9, 107), (198.3, 214), (199.6, 186), (200.9, 174), (201.8, 62), (202.9, 11.5), (203.8, 9.3),
    (204.4, 660), (205.1, 870), (206.2, 1410), (207.5, 1070), (209.4, 1000), (211.4, 870),
    (212.2, 500), (212.7, 186), (213.5, 71), (214.8, 62), (216.2, 81), (218.0, 23), (218.8, 10),
    (219.6, 9.3), (220.2, 23), (221.3, 47), (222.6, 71), (224.6, 54), (227.2, 58), (229.8, 58),
    (231.2, 30), (232.0, 15), (232.7, 41), (233.8, 132), (235.1, 186), (236.4, 200), (237.7, 214),
    (239.1, 30), (240.4, 12.3), (241.7, 14), (243.3, 15), (245.6, 62), (246.7, 58), (248.0, 30),
    (249.6, 20), (251.6, 15), (253.5, 13), (255.5, 10.7), (257.5, 7.6), (259.1, 7.1), (261.4, 10),
    (263.0, 7.1), (265.1, 7.6), (266.9, 6.6), (269.1, 7.1), (270.9, 8.1), (273.5, 7.6), (276.2, 6.2),
    (278.8, 6.2), (281.4, 6.2), (283.8, 7.1), (285.8, 7.1), (288.0, 7.6), (290.4, 8.7), (293.0, 7.6),
    (295.4, 7.1), (297.0, 35), (298.0, 115), (299.6, 132), (301.2, 151), (302.5, 123), (303.8, 62),
    (305.1, 54), (306.4, 50), (308.1, 30), (309.4, 33), (311.4, 30), (313.0, 14), (314.1, 10),
    (315.6, 11.5), (317.3, 8.7), (319.3, 7.6), (321.3, 5.4), (323.3, 6.6), (325.2, 6.6),
    (327.2, 7.1), (329.2, 30), (330.5, 28), (331.8, 24.5), (332.7, 21)]

TOP_TICKS = [60, 90, 120, 150, 180, 210, 240, 270, 300, 330]
BOT_TICKS = [60, 90, 120, 150, 180, 210, 240, 270, 300, 330]


def box(left, top, right, bottom):
    return [left / W, 1 - bottom / H, (right - left) / W, (bottom - top) / H]


def pairs(p):
    a = np.array(p, dtype=float)
    return a[:, 0], a[:, 1]


def triples(t):
    a = np.array(t, dtype=float)
    return a[:, 0], a[:, 1], a[:, 2]


def style_top(ax, last=False):
    ax.set_xlim(60, 336.5)
    for s in ('top', 'right'):
        ax.spines[s].set_visible(False)
    for s in ('left', 'bottom'):
        ax.spines[s].set_linewidth(0.8)
        ax.spines[s].set_color('#333333')
    ax.tick_params(axis='y', direction='out', length=4, width=0.7, colors='#333333', labelleft=False)
    if last:
        ax.xaxis.set_major_locator(FixedLocator(TOP_TICKS))
        ax.xaxis.set_minor_locator(MultipleLocator(10))
        ax.tick_params(axis='x', which='major', direction='out', length=8.5, width=0.8,
                       colors='#333333', labelsize=10.5, pad=4, labelcolor='#222222')
        ax.tick_params(axis='x', which='minor', direction='out', length=4, width=0.8, colors='#333333')
    else:
        ax.xaxis.set_major_locator(MultipleLocator(10))
        ax.xaxis.set_minor_locator(MultipleLocator(2))
        ax.tick_params(axis='x', which='major', direction='out', length=7, width=0.7,
                       colors='#333333', labelbottom=False)
        ax.tick_params(axis='x', which='minor', direction='out', length=4.5, width=0.6, colors='#333333')


def right_twin(ax, ylim, top):
    axr = ax.twinx()
    axr.set_ylim(*ylim)
    for s in ('top', 'left', 'bottom'):
        axr.spines[s].set_visible(False)
    axr.spines['right'].set_bounds(0, top)
    axr.spines['right'].set_linewidth(0.8)
    axr.spines['right'].set_color('#333333')
    axr.set_yticks(range(top + 1))
    axr.tick_params(axis='y', direction='out', length=4, width=0.7, colors='#333333', labelright=False)
    return axr


fig = plt.figure(figsize=(W / 100, H / 100), dpi=100)

GRAY_T = '#b4b4b4'

# ---- panel 1 ----
ax1 = fig.add_axes(box(47, 1.7, 876.5, 108.3))
style_top(ax1)
ax1.set_ylim(-0.78, 14)
ax1.spines['left'].set_bounds(0, 14)
ax1.set_yticks(range(15))
ax1.plot(DOY_DAILY, p1_gray, color=GRAY_T, lw=0.9)
x, lo, hi = triples(p1_gray_dips)
ax1.vlines(x, lo, hi, color=GRAY_T, lw=1.0)
ax1.plot(DOY_DAILY, p1_black, color='k', lw=1.0)
x, lo, hi = triples(p1_black_spikes)
ax1.vlines(x, lo, hi, color='k', lw=1.0)

# ---- panel 2 ----
ax2 = fig.add_axes(box(47, 122, 876.5, 275))
style_top(ax2)
ax2.set_ylim(0, 8.18)
ax2.spines['left'].set_bounds(0, 7)
ax2.set_yticks(range(8))
ax2r = right_twin(ax2, (-2.72, 6.18), 6)
ax2.set_zorder(ax2r.get_zorder() + 1)
ax2.patch.set_visible(False)
ax2r.plot(DOY_DAILY, p2_gray, color='#bdbdbd', lw=0.8)
x, lo, hi = triples(p2_gray_spikes)
ax2r.vlines(x, lo, hi, color='#bdbdbd', lw=0.9)
x, y = pairs(p2_black)
ax2.plot(x, y, color='k', lw=2.2)

# ---- panel 3 ----
ax3 = fig.add_axes(box(47, 280, 876.5, 415))
style_top(ax3, last=True)
ax3.set_ylim(-0.32, 12.79)
ax3.spines['left'].set_bounds(0, 10)
ax3.set_yticks(range(11))
ax3r = right_twin(ax3, (-0.30, 11.86), 10)
ax3.plot(DOY_DAILY, p3_gray, color=GRAY_T, lw=0.9)
x, lo, hi = triples(p3_gray_spikes)
ax3.vlines(x, lo, hi, color=GRAY_T, lw=1.0)
x, y = pairs(p3_black)
ax3r.plot(x, y, color='k', lw=1.1)
x, lo, hi = triples(p3_black_jitter)
ax3r.vlines(x, lo, hi, color='k', lw=0.8)
fig.text(461 / W, 1 - 455 / H, 'DOY 2009', fontsize=10.5, color='#222222', ha='center', va='center')

# ---- bottom panel ----
ax4 = fig.add_axes(box(110, 496, 808, 688))
ax4.set_xlim(58.8, 334.4)
ax4.set_yscale('log')
ax4.set_ylim(5.3, 1057)
ax4r = ax4.twinx()
ax4r.set_yscale('log')
ax4r.set_ylim(3.1, 10600)

x, y = pairs(e_rate)
ax4.plot(x, y, color='k', lw=3.6, solid_joinstyle='round', solid_capstyle='round')
x, y = pairs(je_flux)
ax4r.plot(x, y, color='#8c8c8c', lw=1.6, ls=(0, (4, 2)), marker='s', ms=5.5,
          mfc='none', mec='#7a7a7a', mew=1.0)

ax4.spines['top'].set_visible(False)
ax4.spines['right'].set_visible(False)
ax4.spines['bottom'].set_linewidth(2.8)
ax4.spines['left'].set_linewidth(1.6)
for s in ('top', 'left', 'bottom'):
    ax4r.spines[s].set_visible(False)
ax4r.spines['right'].set_linewidth(1.6)

ax4.xaxis.set_major_locator(FixedLocator(BOT_TICKS))
ax4.xaxis.set_minor_locator(MultipleLocator(10))
ax4.tick_params(axis='x', which='major', direction='out', length=14, width=2.6, labelsize=12, pad=6)
ax4.tick_params(axis='x', which='minor', direction='out', length=8, width=2.4)
plt.setp(ax4.get_xticklabels(), fontweight='bold')

ax4.yaxis.set_major_locator(FixedLocator([10, 100, 1000]))
ax4.yaxis.set_major_formatter(FixedFormatter(['1E+1', '1E+2', '1E+3']))
ax4.yaxis.set_minor_locator(LogLocator(base=10, subs=range(2, 10)))
ax4.yaxis.set_minor_formatter(NullFormatter())
ax4.tick_params(axis='y', which='major', direction='out', length=14, width=2.4, labelsize=14, pad=1)
ax4.tick_params(axis='y', which='minor', direction='out', length=7, width=1.6)

ax4r.yaxis.set_major_locator(FixedLocator([10, 100, 1000, 10000]))
ax4r.yaxis.set_major_formatter(FixedFormatter(['1E+1', '1E+2', '1E+3', '1E+4']))
ax4r.yaxis.set_minor_locator(LogLocator(base=10, subs=range(2, 10)))
ax4r.yaxis.set_minor_formatter(NullFormatter())
ax4r.tick_params(axis='y', which='major', direction='out', length=13, width=2.4, labelsize=14, pad=1)
ax4r.tick_params(axis='y', which='minor', direction='out', length=8, width=1.6)

fig.text(471 / W, 1 - 747 / H, 'DOY 2009', fontsize=12.5, fontweight='bold', ha='center', va='center')
fig.text(14 / W, 1 - 613 / H, 'Скорость счета е (1–4 БэВ), с$^{-1}$', rotation=90,
         family=['Liberation Serif', 'DejaVu Serif'], fontsize=15.5, ha='center', va='center')
fig.text(899 / W, 1 - 601 / H, r'$J_{\rm e}$ (> 2 МэВ), см$^{-2}$с$^{-1}$ср$^{-1}$', rotation=90,
         family=['Liberation Serif', 'DejaVu Serif'], fontsize=13.5, ha='center', va='center')

fig.savefig('out.png', dpi=100)
